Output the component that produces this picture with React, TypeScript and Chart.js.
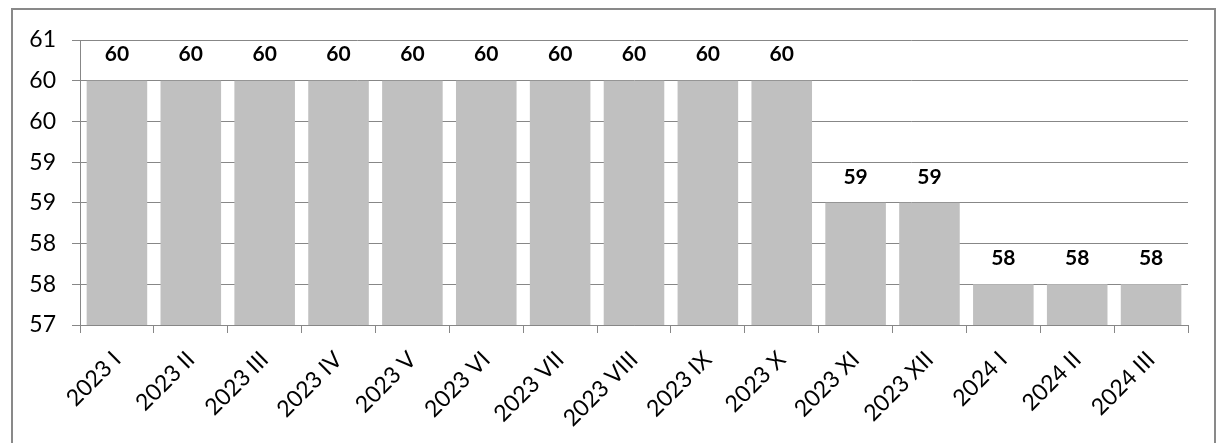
import React, { useEffect, useRef } from "react";
import { Chart, registerables } from "chart.js";

Chart.register(...registerables);

const categories = [
  "2023 I", "2023 II", "2023 III", "2023 IV", "2023 V", "2023 VI", "2023 VII",
  "2023 VIII", "2023 IX", "2023 X", "2023 XI", "2023 XII", "2024 I", "2024 II", "2024 III",
];
const values = [60, 60, 60, 60, 60, 60, 60, 60, 60, 60, 58.5, 58.5, 57.5, 57.5, 57.5];
const yMin = 57;
const yMax = 60.5;
const yStep = 0.5;

const FONT = "Lato, 'Open Sans', sans-serif";
const GRID = "#878787";

const labelPlugin = {
  id: "barLabels",
  afterDatasetsDraw(chart: any) {
    const ctx = chart.ctx;
    const meta = chart.getDatasetMeta(0);
    ctx.save();
    ctx.font = `bold 21px ${FONT}`;
    ctx.fillStyle = "#000";
    ctx.textAlign = "center";
    ctx.textBaseline = "middle";
    meta.data.forEach((bar: any, i: number) => {
      ctx.fillText(String(Math.round(values[i])), bar.x, bar.y - 26);
    });
    ctx.restore();
  },
};

export default function App() {
  const ref = useRef<HTMLCanvasElement | null>(null);
  useEffect(() => {
    if (!ref.current) return;
    const chart = new Chart(ref.current, {
      type: "bar",
      data: {
        labels: categories,
        datasets: [
          {
            data: values,
            backgroundColor: "#C0C0C0",
            borderWidth: 0,
            barPercentage: 0.82,
            categoryPercentage: 1,
          },
        ],
      },
      options: {
        responsive: false,
        animation: false,
        devicePixelRatio: 1,
        layout: { padding: { top: 40, right: 33, left: 0, bottom: 0 } },
        plugins: { legend: { display: false }, tooltip: { enabled: false } },
        scales: {
          x: {
            afterFit: (s: any) => { s.height = 443 - 325; },
            grid: { drawOnChartArea: false, drawTicks: true, tickLength: 8, color: GRID, offset: true },
            border: { display: true, color: GRID, width: 1 },
            ticks: {
              minRotation: 45,
              maxRotation: 45,
              autoSkip: false,
              padding: 13,
              color: "#000",
              font: { family: FONT, size: 23 },
            },
          },
          y: {
            min: yMin,
            max: yMax,
            afterFit: (s: any) => { s.width = 80; },
            grid: { color: GRID, tickLength: 8, lineWidth: 1 },
            border: { display: true, color: GRID, width: 1 },
            ticks: {
              stepSize: yStep,
              padding: 16,
              color: "#000",
              font: { family: FONT, size: 23 },
              callback: (v: any) => String(Math.round(Number(v))),
            },
          },
        },
      },
      plugins: [labelPlugin],
    });
    return () => chart.destroy();
  }, []);

  return (
    <div style={{ position: "fixed", left: 0, top: 0, width: 1221, height: 443, background: "#fff", overflow: "hidden" }}>
      <div
        style={{
          position: "absolute",
          left: 11,
          top: 8,
          width: 1205,
          height: 460,
          border: "2px solid #898989",
          boxSizing: "border-box",
        }}
      />
      <canvas
        ref={ref}
        width={1221}
        height={443}
        style={{ position: "absolute", left: 0, top: 0, width: 1221, height: 443 }}
      />
    </div>
  );
}
